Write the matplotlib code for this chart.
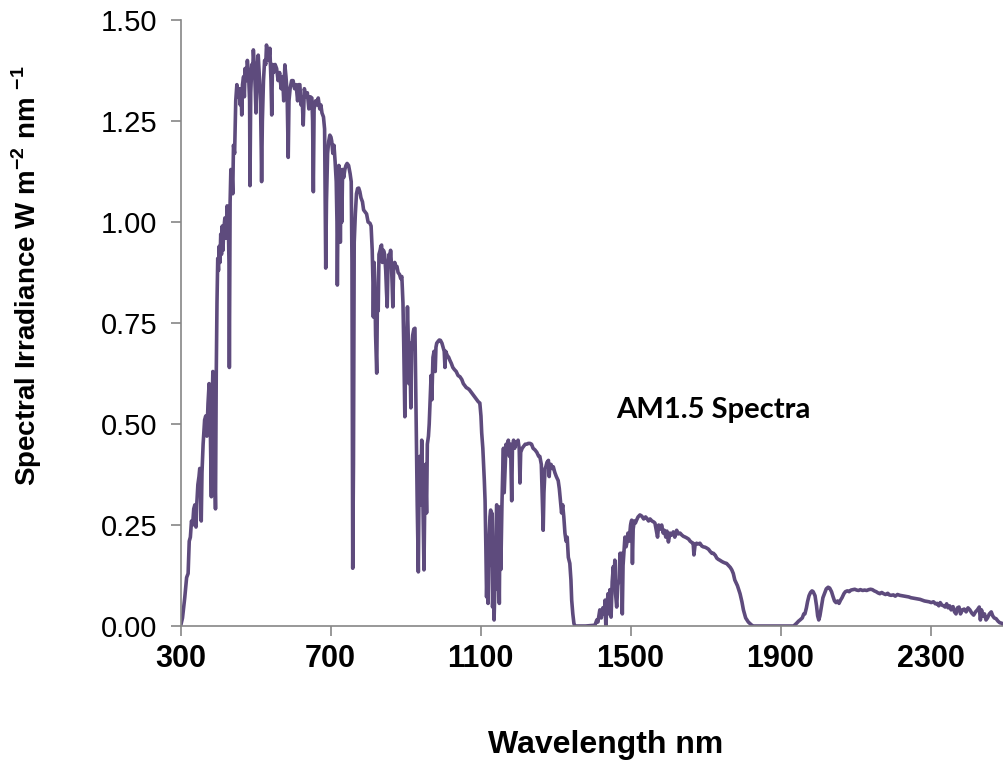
import matplotlib
matplotlib.use("Agg")
import matplotlib.pyplot as plt
import numpy as np

# AM1.5 spectrum, (wavelength nm, W m-2 nm-1)
uv_band = [
    (300, 0.00), (305, 0.02), (311, 0.07), (316, 0.12), (320, 0.13), (323, 0.21),
    (326, 0.22), (329, 0.26), (332, 0.25), (335, 0.29), (338, 0.30), (341, 0.245),
    (343, 0.30), (346, 0.35), (349, 0.37), (351, 0.39), (353, 0.37), (355, 0.26),
    (357, 0.38), (360, 0.45), (364, 0.51), (367, 0.52), (370, 0.47), (373, 0.55),
    (376, 0.60), (379, 0.50), (382, 0.32), (384, 0.55), (386, 0.63), (388, 0.60),
    (390, 0.45), (393, 0.29), (395, 0.62), (397, 0.80),
]
visible_band = [
    (399, 0.91), (401, 0.88), (403, 0.94), (405, 0.90), (407, 0.97), (409, 0.92),
    (411, 0.99), (413, 0.93), (415, 0.98), (418, 1.01), (421, 0.96), (424, 1.04),
    (427, 1.00), (429, 0.90), (430, 0.64), (432, 1.05), (434, 1.13), (437, 1.12),
    (439, 1.07), (441, 1.19), (444, 1.17), (447, 1.30), (450, 1.34), (453, 1.31),
    (456, 1.33), (459, 1.29), (461, 1.33), (463, 1.265), (465, 1.34), (468, 1.36),
    (470, 1.31), (472, 1.38), (475, 1.35), (478, 1.40), (481, 1.37), (484, 1.30),
    (485, 1.09), (487, 1.32), (490, 1.39), (492, 1.36), (494, 1.426), (497, 1.38),
    (499, 1.33), (501, 1.27), (503, 1.35), (505, 1.39), (507, 1.413), (510, 1.36),
    (513, 1.30), (515, 1.18), (516, 1.10), (518, 1.25), (521, 1.35), (524, 1.40),
    (527, 1.39), (529, 1.438), (532, 1.42), (535, 1.40), (538, 1.43), (541, 1.35),
    (543, 1.265), (545, 1.39), (548, 1.37), (552, 1.39), (556, 1.38), (560, 1.35),
    (564, 1.37), (568, 1.33), (572, 1.36), (575, 1.30), (578, 1.389), (581, 1.36),
    (584, 1.32), (587, 1.16), (589, 1.30), (592, 1.33), (596, 1.35), (600, 1.35),
    (604, 1.33), (608, 1.34), (612, 1.30), (615, 1.34), (618, 1.34), (621, 1.29),
    (624, 1.31), (627, 1.24), (630, 1.33), (634, 1.31), (638, 1.32), (642, 1.28),
    (646, 1.31), (650, 1.307), (652, 1.25), (654, 1.075), (656, 1.28), (660, 1.30),
    (664, 1.29), (667, 1.307), (671, 1.28), (674, 1.29), (677, 1.27), (681, 1.26),
    (684, 1.23), (686, 1.00), (687, 0.886), (689, 1.05), (692, 1.17), (695, 1.20),
    (698, 1.215), (701, 1.21), (703, 1.20), (706, 1.17), (709, 1.19), (712, 1.15),
    (715, 1.10), (717, 1.00), (718, 0.844), (720, 1.05), (722, 1.14), (724, 1.13),
    (726, 0.95), (728, 1.12), (730, 1.00), (732, 1.13), (735, 1.11), (738, 1.13),
    (741, 1.14), (744, 1.145), (748, 1.14), (752, 1.12), (755, 1.10), (757, 0.90),
    (759, 0.143), (761, 0.40), (763, 0.95), (766, 1.02), (769, 1.07), (772, 1.083),
]
near_ir_band = [
    (775, 1.084), (778, 1.075), (781, 1.06), (785, 1.05), (788, 1.03), (792, 1.025),
    (796, 1.02), (800, 1.00), (805, 0.997), (808, 0.99), (811, 0.93), (813, 0.85),
    (814, 0.765), (816, 0.90), (818, 0.85), (820, 0.72), (823, 0.626), (825, 0.82),
    (827, 0.78), (829, 0.92), (832, 0.93), (834, 0.94), (836, 0.943), (838, 0.90),
    (841, 0.93), (844, 0.92), (847, 0.88), (849, 0.83), (851, 0.79), (853, 0.89),
    (856, 0.92), (858, 0.90), (860, 0.93), (862, 0.90), (864, 0.85), (866, 0.79),
    (868, 0.88), (871, 0.90), (874, 0.89), (877, 0.89), (880, 0.875), (884, 0.87),
    (887, 0.86), (890, 0.865), (893, 0.80), (895, 0.70), (898, 0.518), (900, 0.65),
    (903, 0.70), (905, 0.79), (907, 0.72), (909, 0.60), (911, 0.70), (914, 0.54),
    (916, 0.68), (919, 0.72), (922, 0.735), (925, 0.737), (927, 0.60), (929, 0.45),
    (931, 0.30), (934, 0.134), (936, 0.35), (938, 0.42), (941, 0.30), (943, 0.46),
    (945, 0.38), (947, 0.25), (949, 0.139), (951, 0.30), (953, 0.40), (956, 0.28),
    (958, 0.45), (961, 0.47), (963, 0.50), (965, 0.55), (968, 0.62), (970, 0.56),
    (973, 0.665), (976, 0.68), (979, 0.63), (981, 0.69), (983, 0.70), (987, 0.705),
    (990, 0.708), (993, 0.707), (997, 0.70), (1000, 0.69), (1003, 0.68), (1005, 0.64),
    (1007, 0.68), (1011, 0.67), (1015, 0.665), (1018, 0.658), (1022, 0.65), (1026, 0.64),
    (1030, 0.635), (1035, 0.63), (1040, 0.62), (1045, 0.617), (1050, 0.61), (1054, 0.60),
    (1058, 0.595), (1062, 0.59), (1066, 0.588), (1070, 0.585), (1074, 0.58), (1078, 0.575),
    (1082, 0.57), (1086, 0.565), (1090, 0.56), (1094, 0.555), (1098, 0.552), (1101, 0.52),
    (1103, 0.478), (1106, 0.44), (1108, 0.40), (1110, 0.36), (1112, 0.31), (1114, 0.20),
    (1116, 0.072), (1118, 0.15), (1120, 0.056), (1122, 0.20), (1125, 0.27), (1127, 0.287),
    (1129, 0.15), (1130, 0.28), (1132, 0.047), (1134, 0.10), (1136, 0.015), (1138, 0.09),
    (1140, 0.20), (1143, 0.30), (1146, 0.09), (1148, 0.20), (1150, 0.056), (1152, 0.295),
    (1154, 0.14), (1157, 0.30), (1159, 0.38), (1161, 0.44), (1163, 0.33), (1166, 0.40),
    (1168, 0.45), (1171, 0.43), (1174, 0.46), (1177, 0.42), (1180, 0.45), (1183, 0.31),
    (1185, 0.44), (1188, 0.46), (1191, 0.44), (1194, 0.455), (1197, 0.45), (1200, 0.46),
    (1203, 0.44), (1205, 0.354), (1207, 0.43), (1211, 0.44), (1215, 0.445), (1219, 0.45),
    (1223, 0.45), (1227, 0.452), (1232, 0.452), (1236, 0.45), (1240, 0.44), (1245, 0.436),
    (1250, 0.43), (1255, 0.42), (1258, 0.42), (1262, 0.40), (1265, 0.30), (1267, 0.237),
    (1269, 0.33), (1272, 0.39), (1274, 0.394), (1277, 0.405), (1281, 0.41), (1283, 0.37),
    (1285, 0.40), (1288, 0.40), (1291, 0.39), (1294, 0.394), (1298, 0.38), (1302, 0.37),
    (1307, 0.36), (1310, 0.34), (1313, 0.31), (1316, 0.28), (1319, 0.30), (1322, 0.27),
    (1325, 0.23), (1328, 0.21), (1331, 0.22), (1334, 0.17), (1338, 0.155), (1341, 0.114),
    (1343, 0.064), (1346, 0.03), (1349, 0.006), (1352, 0.0), (1380, 0.0),
]
swir_band = [
    (1405, 0.002), (1410, 0.015), (1413, 0.01), (1418, 0.04), (1422, 0.02), (1426, 0.045),
    (1430, 0.03), (1432, 0.064), (1434, 0.0), (1437, 0.05), (1440, 0.08), (1443, 0.03),
    (1445, 0.09), (1448, 0.022), (1451, 0.11), (1454, 0.147), (1456, 0.10), (1458, 0.163),
    (1460, 0.08), (1463, 0.047), (1466, 0.10), (1469, 0.114), (1472, 0.18), (1474, 0.12),
    (1476, 0.18), (1478, 0.03), (1480, 0.15), (1483, 0.19), (1485, 0.22), (1488, 0.196),
    (1490, 0.205), (1493, 0.23), (1496, 0.21), (1500, 0.25), (1503, 0.262), (1505, 0.155),
    (1507, 0.24), (1510, 0.26), (1513, 0.255), (1516, 0.262), (1520, 0.27), (1525, 0.275),
    (1530, 0.272), (1535, 0.265), (1540, 0.27), (1543, 0.267), (1548, 0.26), (1552, 0.265),
    (1557, 0.26), (1561, 0.258), (1565, 0.255), (1568, 0.24), (1572, 0.22), (1575, 0.25),
    (1579, 0.24), (1583, 0.25), (1587, 0.23), (1590, 0.237), (1594, 0.22), (1597, 0.235),
    (1601, 0.208), (1605, 0.23), (1609, 0.225), (1614, 0.233), (1618, 0.22), (1623, 0.237),
    (1627, 0.228), (1632, 0.23), (1637, 0.225), (1641, 0.222), (1646, 0.22), (1650, 0.218),
    (1655, 0.215), (1659, 0.21), (1663, 0.207), (1667, 0.205), (1669, 0.176), (1672, 0.20),
    (1676, 0.205), (1680, 0.203), (1685, 0.205), (1690, 0.198), (1694, 0.196), (1699, 0.195),
    (1703, 0.193), (1708, 0.19), (1712, 0.185), (1717, 0.18), (1721, 0.18), (1726, 0.175),
    (1730, 0.168), (1734, 0.165), (1738, 0.163), (1743, 0.16), (1747, 0.158), (1752, 0.156),
    (1756, 0.155), (1761, 0.15), (1766, 0.145), (1770, 0.139), (1774, 0.13), (1778, 0.114),
    (1785, 0.10), (1792, 0.08), (1797, 0.06), (1801, 0.04), (1807, 0.02), (1814, 0.01),
    (1822, 0.003), (1827, 0.0), (1935, 0.0),
]
far_ir_band = [
    (1943, 0.007), (1948, 0.012), (1952, 0.015), (1958, 0.02), (1962, 0.03), (1965, 0.03),
    (1969, 0.045), (1972, 0.06), (1976, 0.075), (1980, 0.083), (1984, 0.087), (1987, 0.085),
    (1992, 0.075), (1996, 0.05), (1999, 0.025), (2002, 0.015), (2005, 0.025), (2009, 0.047),
    (2013, 0.07), (2018, 0.082), (2022, 0.092), (2027, 0.096), (2031, 0.094), (2036, 0.085),
    (2040, 0.073), (2044, 0.062), (2048, 0.058), (2052, 0.062), (2056, 0.056), (2060, 0.064),
    (2064, 0.07), (2069, 0.08), (2073, 0.085), (2078, 0.087), (2083, 0.085), (2088, 0.089),
    (2093, 0.09), (2098, 0.091), (2103, 0.089), (2108, 0.088), (2113, 0.09), (2119, 0.088),
    (2124, 0.089), (2130, 0.088), (2135, 0.09), (2140, 0.091), (2145, 0.09), (2150, 0.087),
    (2155, 0.085), (2160, 0.082), (2165, 0.08), (2170, 0.083), (2175, 0.08), (2180, 0.078),
    (2186, 0.081), (2190, 0.077), (2195, 0.076), (2201, 0.077), (2206, 0.074), (2212, 0.078),
    (2218, 0.076), (2224, 0.075), (2230, 0.074), (2236, 0.073), (2242, 0.072), (2248, 0.07),
    (2254, 0.069), (2260, 0.068), (2266, 0.067), (2272, 0.066), (2278, 0.064), (2284, 0.062),
    (2290, 0.061), (2296, 0.06), (2302, 0.058), (2308, 0.06), (2313, 0.055), (2318, 0.056),
    (2322, 0.05), (2326, 0.058), (2330, 0.052), (2335, 0.05), (2339, 0.047), (2343, 0.055),
    (2347, 0.045), (2351, 0.05), (2355, 0.04), (2360, 0.048), (2364, 0.035), (2368, 0.03),
    (2372, 0.045), (2376, 0.047), (2380, 0.03), (2385, 0.04), (2390, 0.042), (2395, 0.035),
    (2400, 0.045), (2405, 0.04), (2410, 0.032), (2415, 0.027), (2420, 0.035), (2425, 0.04),
    (2430, 0.047), (2433, 0.015), (2436, 0.04), (2440, 0.025), (2444, 0.03), (2448, 0.015),
    (2452, 0.02), (2457, 0.03), (2462, 0.035), (2466, 0.025), (2470, 0.02), (2475, 0.018),
    (2480, 0.012), (2485, 0.008), (2490, 0.007), (2495, 0.002), (2500, 0.0),
]

x_ticks = [300, 700, 1100, 1500, 1900, 2300]
y_ticks = [0.00, 0.25, 0.50, 0.75, 1.00, 1.25, 1.50]

line_color = "#5e4b7d"
axis_color = "#868686"

points = np.array(uv_band + visible_band + near_ir_band + swir_band + far_ir_band)
wavelength = points[:, 0]
irradiance = points[:, 1]

plt.rcParams["mathtext.fontset"] = "custom"
plt.rcParams["mathtext.rm"] = "Liberation Sans"
plt.rcParams["mathtext.bf"] = "Liberation Sans:bold"

fig = plt.figure(figsize=(10.04, 7.64), dpi=100)
ax = fig.add_axes([0.1799, 0.1806, 0.8201, 0.7932])

ax.plot(wavelength, irradiance, color=line_color, linewidth=2.6, solid_joinstyle="round")

ax.set_xlim(300, 2496)
ax.set_ylim(0, 1.5)
ax.set_xticks(x_ticks)
ax.set_yticks(y_ticks)
ax.set_yticklabels([f"{v:.2f}" for v in y_ticks], fontsize=21,
                   family=["Liberation Sans", "DejaVu Sans"])
ax.set_xticklabels([str(v) for v in x_ticks], fontsize=22, fontweight="bold",
                   family=["Liberation Sans Narrow", "Liberation Sans", "DejaVu Sans"])

for side in ["top", "right"]:
    ax.spines[side].set_visible(False)
for side in ["left", "bottom"]:
    ax.spines[side].set_color(axis_color)
    ax.spines[side].set_linewidth(1.2)
ax.tick_params(axis="x", direction="out", length=7, width=1.2, color=axis_color,
               labelcolor="black", pad=6)
ax.tick_params(axis="y", direction="out", length=7, width=1.2, color=axis_color,
               labelcolor="black", pad=10)

fig.text(27 / 1004, 1 - 276 / 764,
         r"Spectral Irradiance W m$^{\mathbf{-2}}$ nm $^{\mathbf{-1}}$",
         rotation=90, ha="center", va="center", fontsize=20, fontweight="bold",
         family=["Liberation Sans", "DejaVu Sans"])
fig.text(606 / 1004, 1 - 745 / 764, "Wavelength nm", ha="center", va="center",
         fontsize=23, fontweight="bold",
         family=["Liberation Sans Narrow", "Liberation Sans", "DejaVu Sans"])
ax.text(1720, 0.535, "AM1.5 Spectra", ha="center", va="center", fontsize=21,
        fontweight="bold", family=["Lato", "Open Sans", "DejaVu Sans"])

fig.savefig("out.png", dpi=100)
